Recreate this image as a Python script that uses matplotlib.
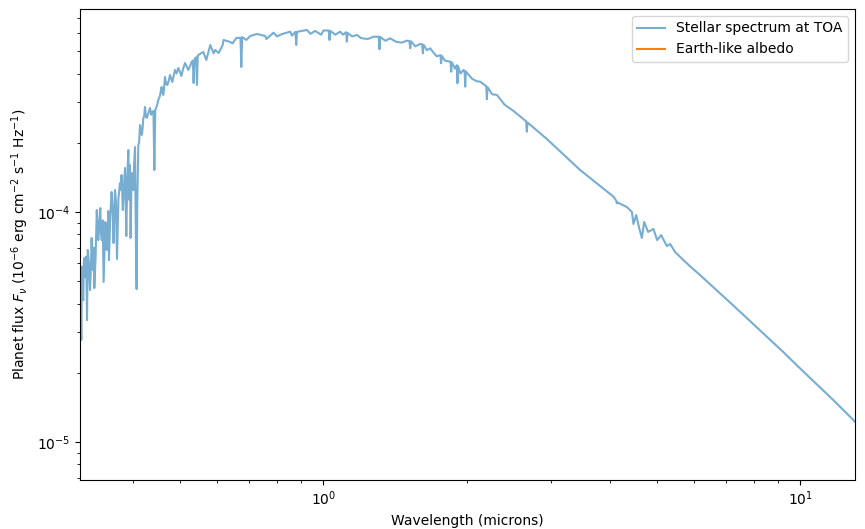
import numpy as np
import matplotlib
matplotlib.use("Agg")
import matplotlib.pyplot as plt

# Wavelength (microns) and flux (units of 1e-4)
wavelength = [
    0.3101, 0.3109, 0.3119, 0.3139, 0.3155, 0.3196, 0.3208, 0.3243, 0.3268, 0.3287,
    0.3311, 0.3351, 0.3376, 0.3408, 0.3433, 0.3463, 0.3491, 0.3516, 0.3542, 0.3554,
    0.3599, 0.3634, 0.3659, 0.3694, 0.3748, 0.3777, 0.3800, 0.3840, 0.3864, 0.3902,
    0.3921, 0.3945, 0.3964, 0.3997, 0.4030, 0.4049, 0.4061, 0.4075, 0.4095, 0.4128,
    0.4164, 0.4195, 0.4229, 0.4266, 0.4333, 0.4381, 0.4405, 0.4424, 0.4445, 0.4510,
    0.4582, 0.4620, 0.4658, 0.4710, 0.4772, 0.4825, 0.4888, 0.4966, 0.5039, 0.5130,
    0.5212, 0.5296, 0.5327, 0.5348, 0.5370, 0.5392, 0.5415, 0.5436, 0.5456, 0.5470,
    0.5604, 0.5686, 0.5797, 0.5938, 0.6033, 0.6180, 0.6383, 0.6572, 0.6706, 0.6733,
    0.6760, 0.7030, 0.7261, 0.7557, 0.7866, 0.8204, 0.8527, 0.8745, 0.8778, 0.8811,
    0.9243, 0.9621, 1.0014, 1.027, 1.031, 1.035, 1.086, 1.117, 1.121, 1.125,
    1.177, 1.275, 1.307, 1.312, 1.317, 1.382, 1.498, 1.516, 1.522, 1.528,
    1.597, 1.612, 1.618, 1.624, 1.676, 1.761, 1.767, 1.773, 1.849, 1.855,
    1.861, 1.906, 1.912, 1.918, 1.969, 1.979, 1.985, 1.991, 2.134, 2.197,
    2.204, 2.211, 2.313, 2.506, 2.664, 2.673, 2.682, 2.944, 3.458, 4.061,
    4.115, 4.128, 4.141, 4.333, 4.439, 4.473, 4.532, 4.598, 4.658, 4.710,
    4.801, 4.926, 5.015, 5.112, 5.255, 5.340, 5.470, 5.693, 5.900, 6.170,
    7.247, 8.516, 9.226, 10.0, 11.74, 13.04,
]
flux_1e4 = [
    0.414, 0.278, 0.578, 0.414, 0.631, 0.339, 0.684, 0.458, 0.771, 0.560,
    0.467, 1.020, 0.755, 1.041, 0.755, 0.496, 0.905, 0.684, 1.010, 0.618,
    1.222, 0.733, 1.246, 0.625, 1.337, 1.448, 1.020, 1.553, 0.786, 1.860,
    1.128, 0.771, 1.478, 1.246, 1.917, 0.684, 0.4625, 1.128, 1.956, 2.389,
    2.162, 2.563, 2.861, 2.563, 2.833, 2.721, 2.750, 1.522, 2.777, 3.069,
    3.496, 3.227, 3.864, 3.566, 3.942, 3.675, 4.144, 4.228, 3.902, 4.444,
    4.144, 4.488, 4.550, 3.638, 4.600, 4.672, 4.700, 3.566, 4.780, 4.815,
    4.962, 4.579, 5.323, 5.063, 4.912, 5.595, 5.484, 5.707, 5.720, 4.270,
    5.760, 5.824, 5.942, 5.824, 6.020, 5.942, 6.080, 6.070, 5.323, 6.070,
    6.185, 6.124, 6.155, 6.150, 5.595, 6.130, 6.080, 6.050, 5.500, 6.000,
    5.883, 5.783, 5.780, 5.099, 5.770, 5.690, 5.556, 5.540, 5.150, 5.520,
    5.376, 5.360, 4.898, 5.330, 5.150, 4.810, 4.431, 4.770, 4.500, 4.074,
    4.470, 4.350, 3.627, 4.310, 4.144, 4.110, 3.506, 4.080, 3.686, 3.520,
    3.090, 3.490, 3.227, 2.749, 2.480, 2.234, 2.450, 2.077, 1.522, 1.166,
    1.120, 1.091, 1.100, 1.051, 1.000, 0.887, 0.970, 0.852, 0.771, 0.905,
    0.819, 0.844, 0.755, 0.794, 0.711, 0.726, 0.670, 0.618, 0.577, 0.532,
    0.392, 0.287, 0.246, 0.209, 0.1523, 0.1226,
]

# Extra fine-structure points (weak lines / crowded band)
extra_wavelength = [
    0.3125, 0.3147, 0.3175, 0.3185, 0.3225, 0.3255, 0.3300, 0.3330, 0.3363, 0.3392,
    0.3420, 0.3448, 0.3478, 0.3505, 0.3530, 0.3575, 0.3615, 0.3645, 0.3676, 0.3720,
    0.3762, 0.3820, 0.3882, 0.3932, 0.3980, 0.4012, 0.4110, 0.4145, 0.4180, 0.4212,
    0.4248, 0.4300, 0.4357, 0.4480, 0.4545, 0.4600, 0.4640, 0.4685, 0.4740, 0.4800,
    0.4855, 0.4925, 0.5000, 0.5085, 0.5170, 0.5255,
    0.5890, 0.6150, 0.6450, 0.6900, 0.7600, 0.8000, 0.8600, 0.9400, 0.9900, 1.0600,
    1.1000, 1.1500, 1.2000, 1.2400, 1.3500, 1.4200, 1.4600, 1.5600, 1.6500, 1.7000,
    1.7300, 1.8000, 1.8900, 1.9400, 2.0500, 2.1000, 2.2600, 2.4000,
]
extra_flux_1e4 = [
    0.45, 0.60, 0.52, 0.64, 0.60, 0.55, 0.70, 0.62, 0.80, 0.92,
    0.80, 0.92, 0.70, 0.85, 0.80, 0.95, 1.05, 0.95, 1.10, 1.15,
    1.25, 1.30, 1.40, 1.60, 1.35, 1.60, 2.00, 2.30, 2.30, 2.60,
    2.60, 2.70, 2.65, 2.90, 3.20, 3.30, 3.50, 3.60, 3.70, 3.80,
    3.90, 4.00, 4.10, 4.20, 4.30, 4.30,
    4.90, 5.30, 5.40, 5.60, 5.65, 5.80, 5.85, 5.95, 5.90, 5.90,
    5.90, 5.80, 5.70, 5.65, 5.55, 5.50, 5.45, 5.25, 5.05, 4.95,
    4.75, 4.55, 4.20, 4.00, 3.80, 3.70, 3.25, 2.93,
]

x_limits = (0.309, 13.04)
y_limits = (6.84e-6, 7.63e-4)

wl = np.array(wavelength + extra_wavelength)
flux = np.array(flux_1e4 + extra_flux_1e4) * 1e-4
order = np.argsort(wl, kind='stable')
wl, flux = wl[order], flux[order]

fig = plt.figure(figsize=(8.65, 5.29), dpi=100)
ax = fig.add_axes([0.0925, 0.0926, 0.896, 0.8904])

ax.plot(wl, flux, color='C0', alpha=0.6, lw=1.5, label='Stellar spectrum at TOA')
ax.plot([], [], color='C1', label='Earth-like albedo')

ax.set_xscale('log')
ax.set_yscale('log')
ax.set_xlim(*x_limits)
ax.set_ylim(*y_limits)
ax.set_xlabel('Wavelength (microns)')
ax.set_ylabel(r'Planet flux $F_\nu$ ($10^{-6}$ erg cm$^{-2}$ s$^{-1}$ Hz$^{-1}$)')
ax.legend(loc='upper right')

fig.savefig('out.png', dpi=100)
